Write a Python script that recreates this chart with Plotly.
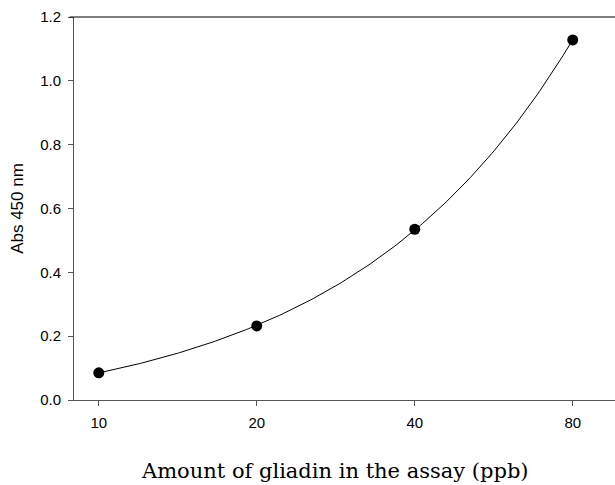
import numpy as np
import plotly.graph_objects as go

# Data
gliadin_ppb = [10, 20, 40, 80]
absorbance = [0.085, 0.232, 0.535, 1.128]
x_tick_vals = [10, 20, 40, 80]
x_tick_text = ["10", "20", "40", "80"]
y_tick_vals = [0.0, 0.2, 0.4, 0.6, 0.8, 1.0, 1.2]
y_tick_text = ["0.0", "0.2", "0.4", "0.6", "0.8", "1.0", "1.2"]
x_title = "Amount of gliadin in the assay (ppb)"
y_title = "Abs 450 nm"

# Linear regression fit of the data (drawn on log-x axis)
slope, intercept = np.polyfit(gliadin_ppb, absorbance, 1)
fit_x = np.geomspace(min(gliadin_ppb), max(gliadin_ppb), 200)
fit_y = slope * fit_x + intercept

fig = go.Figure()
fig.add_trace(go.Scatter(x=fit_x, y=fit_y, mode="lines",
                         line=dict(color="black", width=1), hoverinfo="skip",
                         showlegend=False))
fig.add_trace(go.Scatter(x=gliadin_ppb, y=absorbance, mode="markers",
                         marker=dict(color="black", size=11), showlegend=False))

axis_color = "#555555"
fig.update_layout(
    width=615, height=485,
    margin=dict(l=74, r=0, t=17, b=85),
    paper_bgcolor="white", plot_bgcolor="white",
    font=dict(family="Liberation Sans, Arial, sans-serif", size=15, color="black"),
    xaxis=dict(
        type="log",
        range=[np.log10(8.97), np.log10(96.3)],
        tickvals=x_tick_vals, ticktext=x_tick_text,
        ticks="outside", ticklen=5, tickcolor=axis_color, tickwidth=1,
        ticklabelstandoff=4,
        showline=True, linecolor=axis_color, linewidth=1,
        showgrid=False, zeroline=False,
    ),
    yaxis=dict(
        range=[0, 1.2],
        tickvals=y_tick_vals, ticktext=y_tick_text,
        ticks="outside", ticklen=5, tickcolor=axis_color, tickwidth=1,
        ticklabelstandoff=4,
        showline=True, linecolor=axis_color, linewidth=1,
        showgrid=False, zeroline=False,
        title=dict(text=y_title, font=dict(size=17), standoff=12),
    ),
    shapes=[dict(type="line", xref="paper", yref="paper", x0=-0.008, x1=1, y0=1, y1=1,
                 line=dict(color="black", width=1))],
    annotations=[dict(text=x_title, xref="paper", yref="paper",
                      x=(335 - 74) / 541, y=-(485 - 400) / 383,
                      xanchor="center", yanchor="bottom", showarrow=False,
                      font=dict(family="DejaVu Serif, Liberation Serif, serif", size=21))],
)

fig.write_html("out.html")
